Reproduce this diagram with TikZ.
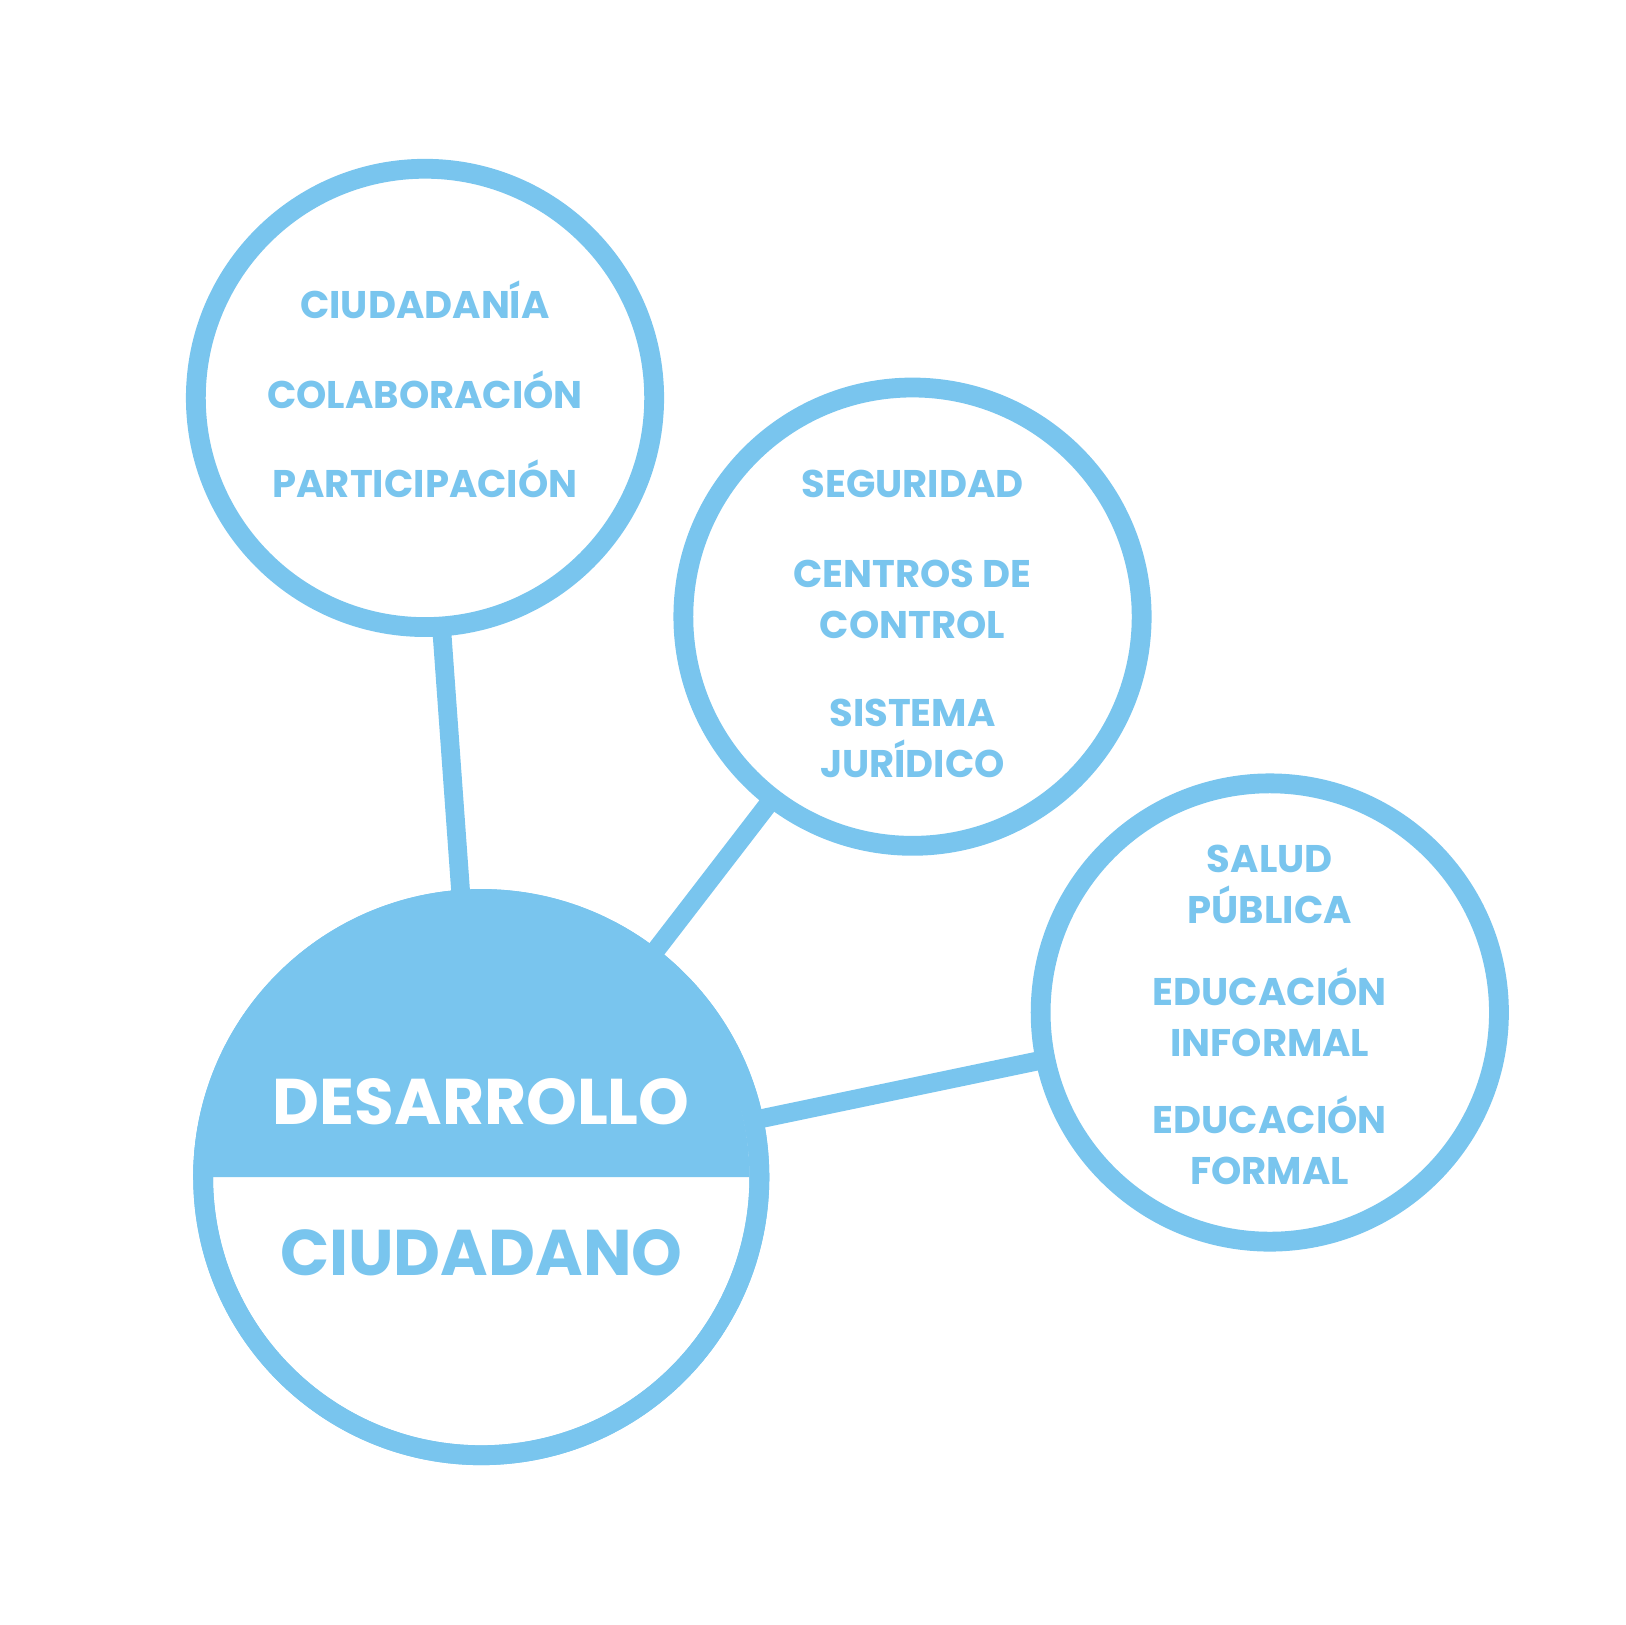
\documentclass[tikz,border=0pt]{standalone}
\usepackage{fontspec}
\setmainfont{Poppins}
\definecolor{sky}{HTML}{79C5EE}
\begin{document}
\begin{tikzpicture}[x=1pt,y=-1pt,
  ring/.style={circle,draw=sky,line width=19pt,fill=white,minimum size=440pt,inner sep=0pt},
  lbl/.style={text=sky,font=\bfseries\fontsize{37}{49}\selectfont,align=center},
  conn/.style={draw=sky,line width=18pt}]
\useasboundingbox (0,0) rectangle (1560,1560);
\coordinate (a0) at (408,382);
\coordinate (b0) at (876,592);
\coordinate (c0) at (1219,972);
\coordinate (d0) at (462,1130);
\draw[conn] (a0) -- (d0);
\draw[conn] (b0) -- (d0);
\draw[conn] (c0) -- (d0);
\node[ring] (A) at (a0) {};
\node[ring] (B) at (b0) {};
\node[ring] (C) at (c0) {};
\node[ring,minimum size=534pt] (D) at (d0) {};
\fill[sky] (D.west) arc[start angle=180,end angle=0,radius=267pt] -- cycle;
\draw[sky,line width=19pt] (D.center) circle[radius=267pt];
\node[lbl] (a1) at (408,288) {CIUDADANÍA};
\node[lbl] (a2) at (408,374) {COLABORACIÓN};
\node[lbl] (a3) at (408,460) {PARTICIPACIÓN};
\node[lbl] (b1) at (876,465) {SEGURIDAD};
\node[lbl] (b2) at (876,575) {CENTROS DE\\CONTROL};
\node[lbl] (b3) at (876,709) {SISTEMA\\JURÍDICO};
\node[lbl] (c1) at (1219,849) {SALUD\\PÚBLICA};
\node[lbl] (c2) at (1219,972) {EDUCACIÓN\\INFORMAL};
\node[lbl] (c3) at (1219,1095) {EDUCACIÓN\\FORMAL};
\node[text=white,font=\bfseries\fontsize{62}{70}\selectfont] (d1) at (462,1058) {DESARROLLO};
\node[text=sky,font=\bfseries\fontsize{62}{70}\selectfont] (d2) at (462,1203) {CIUDADANO};
\end{tikzpicture}
\end{document}
